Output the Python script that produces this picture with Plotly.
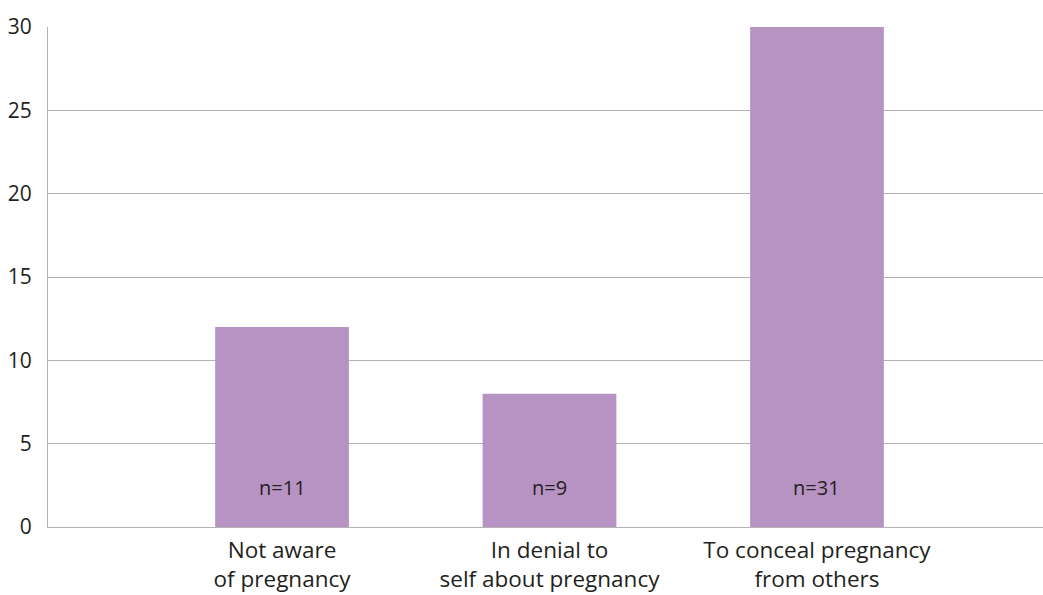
import plotly.graph_objects as go

categories = ["Not aware<br>of pregnancy", "In denial to<br>self about pregnancy", "To conceal pregnancy<br>from others"]
values = [12, 8, 30]
n_labels = ["n=11", "n=9", "n=31"]
y_ticks = [0, 5, 10, 15, 20, 25, 30]

FONT = "Open Sans"
TXT = "#231f20"
GRID = "#b3b3b3"
BAR = "#b793c4"

fig = go.Figure()
fig.add_trace(go.Bar(x=categories, y=values, marker=dict(color=BAR, line=dict(width=0)),
                     width=0.5, hoverinfo="skip"))

for c, t in zip(categories, n_labels):
    fig.add_annotation(x=c, y=2.4, text=t, showarrow=False,
                       font=dict(family=FONT, size=20, color=TXT), yanchor="middle")

fig.update_layout(
    width=1043, height=595,
    margin=dict(l=48, r=0, t=27, b=68),
    plot_bgcolor="white", paper_bgcolor="white",
    showlegend=False,
    font=dict(family=FONT, size=21, color=TXT),
    xaxis=dict(range=[-0.875, 2.845], showgrid=False, showline=True, linecolor=GRID,
               linewidth=1.3, ticks="", ticklabelstandoff=3,
               tickfont=dict(size=22.5, color=TXT, family=FONT),
               fixedrange=True),
    yaxis=dict(range=[0, 30], tickvals=y_ticks, showgrid=True, gridcolor=GRID, gridwidth=1.3,
               showline=True, linecolor=GRID, linewidth=1.3, zeroline=False, ticks="",
               ticklabelstandoff=11, tickfont=dict(size=21, color=TXT, family=FONT),
               fixedrange=True),
)

fig.write_html("out.html")
